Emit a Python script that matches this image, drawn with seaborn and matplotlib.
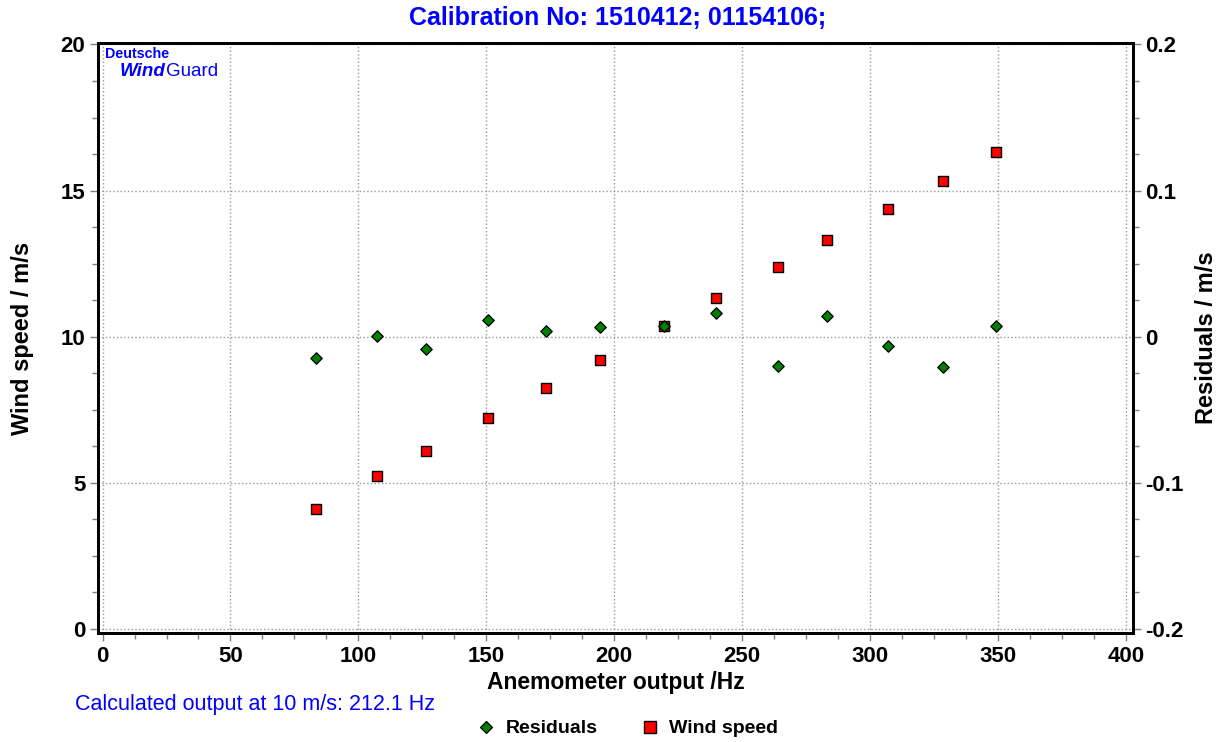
import numpy as np
import pandas as pd
import matplotlib
matplotlib.use("Agg")
import matplotlib.pyplot as plt
from matplotlib.ticker import MultipleLocator
from matplotlib.lines import Line2D
import seaborn as sns

# Data
freq_hz = [83.4, 107.3, 126.5, 150.8, 173.5, 194.6, 219.3, 239.7, 264.0, 283.1, 307.0, 328.6, 349.3]
wind_speed = [4.10, 5.23, 6.09, 7.21, 8.24, 9.20, 10.36, 11.32, 12.38, 13.30, 14.36, 15.32, 16.31]
residuals = [-0.0144, 0.0007, -0.0084, 0.0114, 0.0041, 0.0064, 0.0075, 0.0164,
             -0.0200, 0.0139, -0.0062, -0.0210, 0.0073]

x_ticks = [0, 50, 100, 150, 200, 250, 300, 350, 400]
y_ticks = [0, 5, 10, 15, 20]
r_ticks = [-0.2, -0.1, 0, 0.1, 0.2]
r_labels = ["-0.2", "-0.1", "0", "0.1", "0.2"]

df = pd.DataFrame({"freq": freq_hz, "wind": wind_speed, "resid": residuals})

sns.set_style("white")
plt.rcParams['font.family'] = ['Liberation Sans', 'DejaVu Sans']
plt.rcParams['text.color'] = "black"
plt.rcParams['axes.labelcolor'] = "black"
plt.rcParams['xtick.labelcolor'] = "black"
plt.rcParams['ytick.labelcolor'] = "black"

BLUE = "#0000FF"
RED = "#FF0000"
GREEN = "#008000"

fig = plt.figure(figsize=(12.23, 7.42), dpi=100)
ax = fig.add_axes([0.0801, 0.1469, 0.8463, 0.7951])

sns.scatterplot(data=df, x="freq", y="wind", ax=ax, marker="s", s=60,
                color=RED, edgecolor="black", linewidth=1.0, zorder=3)
ax.set_xlim(-1.8, 402.8)
ax.set_ylim(-0.15, 20.05)
ax.set_xticks(x_ticks)
ax.set_yticks(y_ticks)
ax.xaxis.set_minor_locator(MultipleLocator(12.5))
ax.yaxis.set_minor_locator(MultipleLocator(1.25))
ax.grid(True, which="major", linestyle=":", color="#999999", linewidth=1.0)
ax.set_axisbelow(True)

ax2 = ax.twinx()
sns.scatterplot(data=df, x="freq", y="resid", ax=ax2, marker="D", s=34,
                color=GREEN, edgecolor="black", linewidth=0.9, zorder=4)
ax2.set_ylim(-0.2 - 0.15 * 0.02, 0.2 + 0.05 * 0.02)
ax2.set_yticks(r_ticks)
ax2.set_yticklabels(r_labels)
ax2.yaxis.set_minor_locator(MultipleLocator(0.025))

for a in (ax, ax2):
    for sp in a.spines.values():
        sp.set_color("black")
        sp.set_linewidth(2.0)
    a.tick_params(which="major", direction="out", length=6, width=1,
                  color="#808080", labelsize=16, pad=3, labelcolor="black")
    a.tick_params(which="minor", direction="out", length=4, width=1, color="#808080")
    for lbl in a.get_xticklabels() + a.get_yticklabels():
        lbl.set_fontweight("bold")

ax.tick_params(axis="y", which="both", left=True)
ax.tick_params(axis="x", which="both", bottom=True)

ax.set_xlabel("Anemometer output /Hz", fontsize=16.5, fontweight="bold", labelpad=3)
ax.set_ylabel("Wind speed / m/s", fontsize=17, fontweight="bold", labelpad=19)
ax2.set_ylabel("Residuals / m/s", fontsize=17, fontweight="bold", rotation=90, labelpad=8)

fig.text(0.505, 0.976, "Calibration No: 1510412; 01154106;", ha="center", va="center",
         fontsize=18, fontweight="bold", color=BLUE)

# logo
ax.text(0.0065, 0.993, "Deutsche", transform=ax.transAxes, ha="left", va="top",
        fontsize=10.3, fontweight="bold", color=BLUE)
ax.text(0.0205, 0.966, "Wind", transform=ax.transAxes, ha="left", va="top",
        fontsize=13.5, fontweight="bold", fontstyle="italic", color=BLUE)
ax.text(0.0655, 0.966, "Guard", transform=ax.transAxes, ha="left", va="top",
        fontsize=13.5, color=BLUE)

fig.text(0.061, 0.05, "Calculated output at 10 m/s: 212.1 Hz", ha="left", va="center",
         fontsize=15.5, color=BLUE)

handles = [
    Line2D([], [], linestyle="none", marker="D", markersize=6, markerfacecolor=GREEN,
           markeredgecolor="black", markeredgewidth=0.9),
    Line2D([], [], linestyle="none", marker="s", markersize=8, markerfacecolor=RED,
           markeredgecolor="black", markeredgewidth=1.0),
]
fig.legend(handles, ["Residuals", "Wind speed"], loc="center", bbox_to_anchor=(0.513, 0.018),
           ncol=2, frameon=False, prop={"weight": "bold", "size": 14},
           handlelength=1.0, handletextpad=0.5, columnspacing=2.2)

fig.savefig("out.png", dpi=100)
